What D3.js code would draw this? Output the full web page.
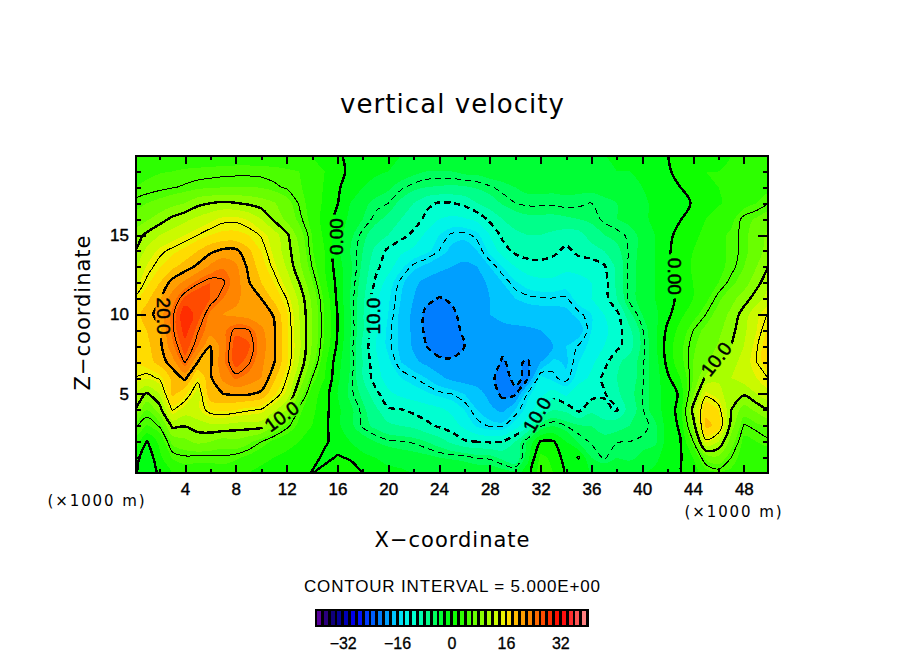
<!DOCTYPE html>
<html>
<head>
<meta charset="utf-8">
<style>
  html, body { margin: 0; background: #fff; }
  svg { display: block; }
  text { font-family: "Liberation Sans", Arial, sans-serif; fill: #000; }
  .axis path { display: none; }
  .axis line { stroke: #000; stroke-width: 2; shape-rendering: crispEdges; }
  .axis text { font-size: 17px; stroke: #000; stroke-width: 0.4px; }
  .heading { font-family: "DejaVu Sans", sans-serif; }
</style>
</head>
<body>
<div id="chart"></div>
<script src="https://cdn.jsdelivr.net/npm/d3@7"></script>
<script>
// vertical velocity, one row per 1000 m of height, x = 0..50 (x1000 m)
const wZ20 = [3,3,3,3,3,3,3,3,3,3,3,3,3,3,2,1,0.3,-0.5,-1,-1.5,-2,-2,-2.5,-2.5,-2.5,-2.5,-2.5,-2,-2,-2,-2,-2,-2,-2,-2,-2,-2,-2,-1.5,-1.5,-1,-0.7,-0.1,0.5,1,1.5,1.5,2,2,2,2]
const wZ19 = [3.5,3.7,3.9,4,4.2,4.3,4.4,4.5,4.6,4.6,4.5,4.4,4.2,4,3.2,2,0.6,-0.4,-1,-1.5,-2,-3,-3.5,-4,-4,-4,-3.5,-3.5,-3,-3,-2.5,-2.5,-2.5,-2.5,-2.5,-2.5,-2.5,-2.5,-2,-2,-1.5,-1,-0.2,0.5,1,2,2,2.5,3,3,3]
const wZ18 = [4,4.3,4.6,4.9,5.2,5.6,5.8,6,6,6,5.9,5.3,4.8,4.2,3.2,1.8,0.3,-1,-2,-3,-3.7,-4.7,-5.5,-6,-6.2,-6.3,-6.2,-5.8,-5.2,-4.5,-4,-3.5,-3.5,-3.5,-3.5,-3.5,-3.5,-3.2,-3,-2.5,-2,-1.2,-0.5,0,0.7,1.5,2,2.5,3,3.2,3.5]
const wZ17 = [5.4,6,6.6,7.3,8,9.4,10,10.4,10.1,9.6,9,8.2,6.8,4.8,3.2,1.6,0.1,-2,-3.5,-4.5,-5,-6.5,-8,-9.5,-10.2,-10.1,-9.5,-8,-7,-5.8,-5,-4.7,-4.7,-4.8,-4.5,-4.7,-5,-4.5,-4,-3.5,-2.5,-1.5,-1,-0.4,0.1,1,1.8,2.5,3.2,4,5]
const wZ16 = [6.5,7.7,9,10.5,11.5,12.5,13.5,14.5,14.6,13.8,12,9.6,7.5,5.5,3.3,1.2,-0.6,-2.5,-4,-5.5,-6.5,-8,-9,-10.5,-12,-12.5,-12.2,-11.5,-9.5,-8,-7,-6.5,-6.5,-6.5,-6.3,-6,-5.6,-4.7,-4,-3.5,-2.5,-1.5,-0.8,-0.1,1,2,3,3.5,5.5,6.2,7]
const wZ15 = [8.8,10.5,12,13,14,15,16,16.5,16.5,16,14.8,13,10.5,7,4,1.5,-0.9,-3.5,-5.5,-7,-8,-9.3,-10.5,-12.5,-14,-15.3,-15.5,-14.5,-12,-9.5,-8.5,-8,-8,-8.5,-9,-8.8,-7,-6,-5.5,-4.7,-3.5,-2,-0.6,0.8,1.5,2.5,3.5,4.3,5.5,7,8.5]
const wZ14 = [10,12.5,14.5,15.5,16.5,18,19.5,20.5,20.5,18.5,16,13.5,11,8,4.2,2,-1.5,-4,-6,-8.5,-10.5,-11.5,-12.5,-13.5,-15,-16.5,-17,-16,-13.5,-11,-9.5,-9,-9,-9.5,-10.5,-9.5,-9,-8,-6.5,-4.8,-3.5,-2,-0.3,1,2,2.8,3.5,4.3,5.5,7,9]
const wZ13 = [11.5,14.2,15.8,17.5,19,20.5,22.5,23.8,22.5,19.5,17,14.5,11.8,8.5,5,2,-1,-3.5,-6.5,-9.5,-11,-13.5,-15.5,-16.5,-17.5,-18,-18.5,-18,-16,-14,-12,-11,-10.8,-11,-11.5,-11,-11,-10.3,-7.5,-4.5,-3.5,-2,-0.2,1.2,2.2,3,3.5,4.5,6,8,10.2]
const wZ12 = [13,15.5,18,20.8,22.5,24.7,26,25.3,23,20.2,18,16,13.2,10,6.3,2.5,-0.6,-3.8,-7,-10.3,-13,-15.5,-17.5,-18.7,-19,-19.3,-19.5,-19,-17.5,-16,-14.3,-13,-12.5,-12.5,-13,-13,-12,-11,-7.5,-4.5,-3.5,-2,-0.5,1,2,3,4,5.5,7,9.3,11.5]
const wZ11 = [15.2,17.5,19.7,23,26.5,28,26,24,22.5,21,20,17.5,15,11.5,7.5,3.5,-0.4,-4,-7.5,-11.5,-13.7,-16,-18,-19.5,-20.1,-19.8,-19.5,-19,-18,-17,-16,-15.5,-15.2,-15.1,-15.3,-13,-12,-11,-8,-4.5,-3.5,-2,-1,0.8,2,3.5,5.6,7.3,9,11,13]
const wZ10 = [17,19,21,24.5,30,27,23.5,22,21.5,21,20.7,19.9,16.3,12,8,3.8,0,-3.8,-7.8,-11.5,-14,-16.5,-18.5,-20.5,-21,-20.3,-19.5,-18.8,-18,-17.5,-17,-17,-17,-17,-16.5,-15.5,-14,-12,-10.7,-6.5,-4,-2.5,-0.5,1.5,3.2,5,6.8,8.5,11,13.5,15.3]
const wZ9 = [16.5,18,19.5,24.5,29,25.2,23,23.5,25.5,25.2,22.5,20.3,16.5,12.2,8,3.9,0,-3.8,-7.8,-11.5,-14.5,-16.5,-18.5,-20.5,-21.3,-20.6,-19.7,-19,-18.5,-18.5,-18.5,-18.3,-18,-18,-17.5,-17,-14,-12.5,-11,-8.5,-5.2,-2.5,0.5,2.7,5,6.5,7.5,9.3,11.5,14,16.5]
const wZ8 = [15.5,17.5,19.3,23.5,27,24,20,23,27,26.3,23,20.3,16.5,12.5,7.8,3.5,-0.4,-4,-8.5,-12,-14.5,-16.5,-18.3,-20,-21.3,-20.8,-20,-19.5,-19.5,-19.8,-19.8,-19,-18.5,-18,-16,-14.8,-13.5,-12,-10.5,-9,-5.5,-2.5,1,3.5,5.7,7,8.2,10,12,14.8,17.5]
const wZ7 = [15.8,17,18.8,21,25.2,20,19.7,23.5,26.8,25.3,22.5,20.2,16.5,11.8,7,2.5,-1.2,-4,-8,-11.5,-13.5,-16,-17.5,-18.5,-19.3,-19.7,-19.7,-19.5,-19.5,-20.1,-19.7,-20.2,-18,-15.5,-16.3,-14,-12.5,-10.7,-8.5,-7,-5.3,-3,0.7,3.3,6,7.6,10,11,13,15,17.5]
const wZ6 = [14.9,14.2,15.3,18.5,20.5,15.8,19.7,22.5,24.3,23.2,22,18.5,15,10,5,2,-1.5,-4.2,-8,-11,-13,-14,-14.8,-16,-17.5,-18.5,-19,-19.3,-19.7,-20.5,-19.7,-20.3,-13.5,-14.7,-15.6,-13,-11.5,-9.5,-8,-7,-5.2,-3,-0.4,2,6,10.5,11.5,12,13,14,15.1]
const wZ5 = [11.5,9.7,12,18.5,16.5,13,19.7,20,20.3,20.2,19.5,16.5,13.5,7.5,3,1,-2,-4.5,-6.5,-9.3,-11.5,-12.5,-13,-13.7,-14.5,-15,-16,-17,-18.7,-20.5,-20.3,-14.5,-12.5,-11,-12.5,-10.3,-10.8,-10.2,-8.5,-6.5,-5.1,-3,-1,0.3,7.5,14.5,13,10.3,10.3,12,13.5]
const wZ4 = [10.2,6,9,15.2,13,13.5,16,16.5,16,15.3,14.8,12.5,10,4.5,2.5,0.7,-1.5,-3.5,-5.5,-7.5,-9.7,-9.9,-10.5,-11,-11.5,-12.5,-14,-16,-17.5,-18.5,-16,-13,-10.5,-8,-8.5,-10.5,-8.5,-9.5,-10.2,-7,-5.2,-3,-1,0.7,11,17.5,16,10,7,8.5,9.8]
const wZ3 = [5.4,3.8,5.2,10.5,10.1,11,11.5,11.5,11,11,10.8,8,5.5,3.5,2,0.5,-1.5,-3.5,-5.3,-6.5,-7.5,-8,-8.5,-9.5,-10.3,-11,-12.5,-14.3,-15.2,-15.3,-13,-10.5,-5.2,-4,-5,-5.8,-6,-7,-6.5,-6,-5.5,-4.5,-1,0.3,8.5,18.5,17.5,9,4.8,5.5,6.5]
const wZ2 = [3.5,-0.1,2.5,6.5,7.5,8.5,8,7,7.5,6.5,5,3.5,2.7,2,1,0.2,-0.5,-2,-3,-4,-4.7,-4.9,-5.2,-6,-7,-8.5,-9.7,-10,-10.2,-10,-8,-3.5,0.2,0.2,-2,-4.3,-5.2,-5.2,-5.1,-5,-4.7,-4.5,-1,-0.1,4.8,14.5,12,7,3.5,4,4.5]
const wZ1 = [1,-1.5,1.5,4.2,4.7,4.5,4.5,4.7,4.3,3.5,2.5,2,1.5,1,0.5,-0.3,0.1,-0.1,-1.5,-2,-2.5,-3,-3.3,-3.5,-4,-4.2,-4.5,-5.2,-5.3,-6.5,-8,-2.5,2.5,1.5,-1,0.1,-4,-5.2,-4,-4.5,-3.5,-2.5,-1,-0.2,2,6.5,7.5,5,3,2.5,3]
const wZ0 = [0.5,-2,0.5,2,3,3,3,3,2.5,2,1.5,1.3,1,0.8,-0.1,0.4,0.8,0.5,0,-1,-1.5,-1.5,-2,-2,-2,-2.5,-2.5,-2.5,-2.5,-3,-3,-1,3,2,-0.5,-1.5,-2,-2,-2,-2,-2,-1.5,-1,-0.1,1,3,4,3.5,2.5,2,2]

const xMajorTicks = [4, 8, 12, 16, 20, 24, 28, 32, 36, 40, 44, 48]
const xMinorTicks = [2, 6, 10, 14, 18, 22, 26, 30, 34, 38, 42, 46]
const zMajorTicks = [5, 10, 15]
const zMinorTicks = [1, 2, 3, 4, 6, 7, 8, 9, 11, 12, 13, 14, 16, 17, 18, 19]

// contour lines, thick ones are every second interval
const thickLevels = [-20, -10, 0, 10, 20]
const thinLevels = [-15, -5, 5, 15, 25]

const barTicks = [-32, -16, 0, 16, 32]

// label text, position in data units, angle
const labelTexts = ['0.00', '0.00', '10.0', '10.0', '20.0', '10.0', '10.0']
const labelX = [15.9, 42.6, 11.6, 45.8, 2.3, 18.8, 31.7]
const labelZ = [14.9, 12.4, 3.6, 7.2, 9.9, 9.9, 3.7]
const labelAngles = [-90, 90, -36, -52, 90, -90, -60]

const colorStops = [-40, -36, -32, -28, -24, -20, -16, -12, -8, -4, 0, 4, 8, 12, 16, 20, 24, 28, 32, 36, 40]
const colorValues = ['#6e00aa', '#14006e', '#0000a0', '#0000ff', '#0050ff', '#008cff', '#00d8ff', '#00ffe1', '#00ffa0', '#00ff46',
    '#00ff00', '#3cff00', '#78ff00', '#b8ff00', '#ffec00', '#ffaa00', '#ff7800', '#ff3c00', '#ff0000', '#ff3c3c', '#ff9696']

const svgWidth = 904
const svgHeight = 654
const plot = { left: 136, right: 768, top: 156, bottom: 473 }
const bar = { left: 316, right: 588, top: 609, bottom: 627 }

const grid = [wZ20, wZ19, wZ18, wZ17, wZ16, wZ15, wZ14, wZ13, wZ12, wZ11, wZ10, wZ9, wZ8, wZ7, wZ6, wZ5, wZ4, wZ3, wZ2, wZ1, wZ0]
const nx = wZ0.length
const nz = grid.length
const values = grid.flat()

const xScale = d3.scaleLinear().domain([0.14, 49.9]).range([plot.left, plot.right])
const zScale = d3.scaleLinear().domain([0.03, 19.97]).range([plot.bottom, plot.top])
const colorScale = d3.scaleLinear().domain(colorStops).range(colorValues)

const bandLevels = d3.range(-40, 40, 2)

const svg = d3.select('#chart')
    .append('svg')
    .attr('width', svgWidth)
    .attr('height', svgHeight)

const defs = svg.append('defs')

defs.append('clipPath')
    .attr('id', 'plotClip')
    .append('rect')
    .attr('x', plot.left)
    .attr('y', plot.top)
    .attr('width', plot.right - plot.left)
    .attr('height', plot.bottom - plot.top)

// d3.contours puts value i at i + 0.5, the rings get rounded off when drawn
const ringLine = d3.line()
    .x(p => xScale(p[0] - 0.5))
    .y(p => zScale(nz - 1 - (p[1] - 0.5)))
    .curve(d3.curveCatmullRomClosed.alpha(0.5))

const contourPath = d => d.coordinates
    .map(polygon => polygon.map(ring => ringLine(ring.slice(0, -1))).join(''))
    .join('')

const contours = d3.contours().size([nx, nz])

// filled bands, low to high
const bandGroup = svg.append('g')
    .attr('clip-path', 'url(#plotClip)')
    .attr('shape-rendering', 'crispEdges')

bandGroup.selectAll('path')
    .data(contours.thresholds(bandLevels)(values))
    .enter()
    .append('path')
    .attr('d', contourPath)
    .attr('fill', d => colorScale(d.value + 1))

// gaps in the lines behind the labels
const labels = labelTexts.map((text, i) => ({ text, x: labelX[i], z: labelZ[i], angle: labelAngles[i] }))

const lineMask = defs.append('mask')
    .attr('id', 'lineMask')
    .attr('maskUnits', 'userSpaceOnUse')
    .attr('x', 0)
    .attr('y', 0)
    .attr('width', svgWidth)
    .attr('height', svgHeight)

lineMask.append('rect')
    .attr('width', svgWidth)
    .attr('height', svgHeight)
    .attr('fill', '#fff')

lineMask.selectAll('rect.gap')
    .data(labels)
    .enter()
    .append('rect')
    .classed('gap', true)
    .attr('x', -22)
    .attr('y', -8)
    .attr('width', 44)
    .attr('height', 16)
    .attr('fill', '#000')
    .attr('transform', d => `translate(${xScale(d.x)}, ${zScale(d.z)}) rotate(${d.angle})`)

const lineGroup = svg.append('g')
    .attr('clip-path', 'url(#plotClip)')
    .append('g')
    .attr('mask', 'url(#lineMask)')
    .attr('fill', 'none')
    .attr('stroke', '#000')
    .attr('shape-rendering', 'crispEdges')

const drawLines = (levels, width) => {
    lineGroup.append('g')
        .selectAll('path')
        .data(contours.thresholds(levels)(values))
        .enter()
        .append('path')
        .attr('d', contourPath)
        .attr('stroke-width', width)
        .attr('stroke-dasharray', d => d.value < 0 ? '6,4' : null)
}

drawLines(thinLevels, 1)
drawLines(thickLevels, 2.4)

svg.append('g')
    .selectAll('text')
    .data(labels)
    .enter()
    .append('text')
    .attr('transform', d => `translate(${xScale(d.x)}, ${zScale(d.z)}) rotate(${d.angle})`)
    .attr('text-anchor', 'middle')
    .attr('dy', '0.36em')
    .style('font-size', '19px')
    .style('stroke', '#000')
    .style('stroke-width', '0.5px')
    .text(d => d.text)

// axes, ticks point into the frame on all four sides
const tickSideAxis = (axis, ticks, size, transform, padding) => {
    const g = svg.append('g')
        .classed('axis', true)
        .attr('transform', transform)
        .call(axis.tickValues(ticks).tickSize(size).tickPadding(padding || 0))
    if (!padding) g.selectAll('text').remove()
    return g
}

tickSideAxis(d3.axisBottom(xScale), xMajorTicks, -8, `translate(0, ${plot.bottom})`, 10)
tickSideAxis(d3.axisBottom(xScale), xMinorTicks, -4, `translate(0, ${plot.bottom})`)
tickSideAxis(d3.axisTop(xScale), xMajorTicks, -8, `translate(0, ${plot.top})`)
tickSideAxis(d3.axisTop(xScale), xMinorTicks, -4, `translate(0, ${plot.top})`)
tickSideAxis(d3.axisLeft(zScale), zMajorTicks, -10, `translate(${plot.left}, 0)`, 7)
tickSideAxis(d3.axisLeft(zScale), zMinorTicks, -5, `translate(${plot.left}, 0)`)
tickSideAxis(d3.axisRight(zScale), zMajorTicks, -10, `translate(${plot.right}, 0)`)
tickSideAxis(d3.axisRight(zScale), zMinorTicks, -5, `translate(${plot.right}, 0)`)

svg.append('rect')
    .attr('x', plot.left)
    .attr('y', plot.top)
    .attr('width', plot.right - plot.left)
    .attr('height', plot.bottom - plot.top)
    .attr('fill', 'none')
    .attr('stroke', '#000')
    .attr('stroke-width', 2.5)
    .attr('shape-rendering', 'crispEdges')

// titles
const addText = (text, x, y, size, width) => svg.append('text')
    .attr('x', x)
    .attr('y', y)
    .attr('text-anchor', 'middle')
    .attr('textLength', width)
    .attr('lengthAdjust', 'spacing')
    .style('font-size', size + 'px')
    .text(text)

addText('vertical velocity', 452, 113, 26, 224).classed('heading', true)
addText('X\u2212coordinate', 452, 547, 21, 155).classed('heading', true)
addText('(\u00d71000 m)', 96, 506, 15, 97).classed('heading', true)
addText('(\u00d71000 m)', 733, 517, 15, 97).classed('heading', true)
addText('CONTOUR INTERVAL = 5.000E+00', 452, 592, 17, 296)

svg.append('text')
    .classed('heading', true)
    .attr('transform', 'translate(90, 313) rotate(-90)')
    .attr('text-anchor', 'middle')
    .attr('textLength', 155)
    .attr('lengthAdjust', 'spacing')
    .style('font-size', '21px')
    .text('Z\u2212coordinate')

// colour bar
const barScale = d3.scaleLinear().domain([-40, 40]).range([bar.left, bar.right])

svg.append('rect')
    .attr('x', bar.left - 1)
    .attr('y', bar.top)
    .attr('width', bar.right - bar.left + 2)
    .attr('height', bar.bottom - bar.top)
    .attr('fill', '#000')
    .attr('shape-rendering', 'crispEdges')

svg.append('g')
    .selectAll('rect')
    .data(bandLevels)
    .enter()
    .append('rect')
    .attr('x', d => barScale(d) + 1)
    .attr('y', bar.top + 2)
    .attr('width', 4)
    .attr('height', bar.bottom - bar.top - 4)
    .attr('fill', d => colorScale(d + 1))
    .attr('shape-rendering', 'crispEdges')

svg.append('g')
    .selectAll('text')
    .data(barTicks)
    .enter()
    .append('text')
    .attr('x', d => barScale(d))
    .attr('y', 649)
    .attr('text-anchor', 'middle')
    .style('font-size', '16px')
    .style('stroke', '#000')
    .style('stroke-width', '0.3px')
    .text(d => d < 0 ? '\u2212' + Math.abs(d) : d)
</script>
</body>
</html>
